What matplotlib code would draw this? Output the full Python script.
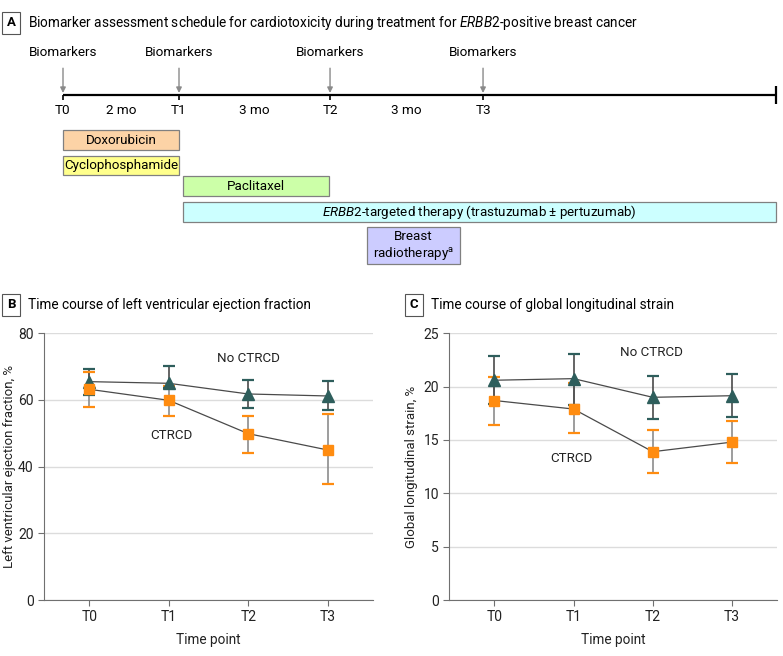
import matplotlib
matplotlib.use("Agg")
import matplotlib.pyplot as plt
import numpy as np

plt.rcParams['font.family'] = ['Roboto', 'DejaVu Sans']
plt.rcParams['mathtext.fontset'] = 'custom'
plt.rcParams['mathtext.rm'] = 'Roboto'
plt.rcParams['mathtext.it'] = 'Roboto:italic'
plt.rcParams['font.size'] = 9.7

# ---- data ----
timepoints = ['T0', 'T1', 'T2', 'T3']

# LVEF, %
lvef_no = [65.5, 65.0, 61.8, 61.2]
lvef_no_lo = [61.5, 63.7, 57.7, 57.1]
lvef_no_hi = [69.3, 70.2, 66.0, 65.7]
lvef_ct = [63.2, 59.9, 49.9, 45.0]
lvef_ct_lo = [57.8, 55.3, 44.1, 34.7]
lvef_ct_hi = [68.4, 64.2, 55.3, 55.7]

# GLS, %
gls_no = [20.6, 20.75, 19.0, 19.15]
gls_no_lo = [18.4, 18.3, 17.0, 17.2]
gls_no_hi = [22.9, 23.1, 21.0, 21.2]
gls_ct = [18.7, 17.9, 13.9, 14.8]
gls_ct_lo = [16.4, 15.7, 11.9, 12.8]
gls_ct_hi = [20.9, 20.3, 15.9, 16.8]

# schedule (schematic units, T0 -> T1 = 1)
sched_pos = [0, 1.0, 2.302, 3.621]
sched_end = 6.147
intervals = ['2 mo', '3 mo', '3 mo']
therapies = ['Doxorubicin', 'Cyclophosphamide', 'Paclitaxel',
             '$\\mathit{ERBB2}$-targeted therapy (trastuzumab ± pertuzumab)',
             'Breast\nradiotherapy$^{\\mathrm{a}}$']
ther_start = [0, 0, 1.035, 1.035, 2.62]
ther_end = [1.0, 1.0, 2.293, sched_end, 3.42]
ther_colors = ['#FCD3A6', '#FFFF8C', '#CCFFA8', '#CCFFFF', '#CCCCFF']

orange = '#FF8C10'
teal = '#2E5E5C'
W, H = 783, 656

fig = plt.figure(figsize=(W / 100, H / 100), dpi=100)


def panel_title(x_px, y_px, letter, title):
    fig.text(x_px / W, 1 - y_px / H, letter, ha='center', va='center',
             fontweight='bold', fontsize=9.5,
             bbox=dict(boxstyle='square,pad=0.35', fc='white', ec='#555', lw=0.8))
    fig.text((x_px + 17) / W, 1 - y_px / H, title, ha='left', va='center', fontsize=9.8)


# ---- panel A ----
ax_a = fig.add_axes([0, 1 - 290 / H, 1, 290 / H])
ax_a.set_xlim(-63 / 116, (W - 63) / 116)
ax_a.set_ylim(290, 0)
ax_a.axis('off')

panel_title(11, 23, 'A', 'Biomarker assessment schedule for cardiotoxicity during treatment for '
            '$\\mathit{ERBB2}$-positive breast cancer')

ax_a.plot([sched_pos[0], sched_end], [95, 95], color='black', lw=1.6, solid_capstyle='butt')
ax_a.vlines(sched_pos, 95, 100, color='black', lw=1.2)
ax_a.vlines(sched_end, 86, 104, color='black', lw=1.6)
for x, t in zip(sched_pos, timepoints):
    ax_a.annotate('Biomarkers', xy=(x, 93), xytext=(x, 52), ha='center', va='center',
                  fontsize=9.7,
                  arrowprops=dict(arrowstyle='-|>', color='#8a8a8a', lw=1,
                                  shrinkA=5, shrinkB=0, mutation_scale=8))
    ax_a.text(x, 110, t, ha='center', va='center', fontsize=9.7)
mids = [(a + b) / 2 for a, b in zip(sched_pos[:-1], sched_pos[1:])]
for x, lab in zip(mids, intervals):
    ax_a.text(x, 110, lab, ha='center', va='center', fontsize=9.7)

row_top = [130, 155.5, 176, 201.7, 227]
row_h = [20, 19.5, 20, 20, 37]
for i, name in enumerate(therapies):
    yc = row_top[i] + row_h[i] / 2
    ax_a.barh(yc, ther_end[i] - ther_start[i], left=ther_start[i], height=row_h[i],
              color=ther_colors[i], edgecolor='#808080', lw=0.9)
    ax_a.text((ther_start[i] + ther_end[i]) / 2, yc + 0.5, name, ha='center', va='center',
              fontsize=9.6, linespacing=1.1)


# ---- panels B and C ----
def trend_panel(ax, no, no_lo, no_hi, ct, ct_lo, ct_hi, ymax, step, ylabel, lab_no, lab_ct, ylab_x):
    x = np.arange(len(timepoints))
    ax.set_xlim(-0.57, 3.57)
    ax.set_ylim(0, ymax)
    ax.set_yticks(np.arange(0, ymax + step / 2, step))
    ax.set_xticks(x)
    ax.set_xticklabels(timepoints)
    ax.grid(axis='y', color='#dcdcdc', lw=1)
    ax.set_axisbelow(True)
    for s in ['top', 'right']:
        ax.spines[s].set_visible(False)
    for s in ['left', 'bottom']:
        ax.spines[s].set_color('#707070')
    ax.tick_params(colors='#707070', labelcolor='#222222', labelsize=10, length=4)

    # error bars
    ax.vlines(x, ct_lo, ct_hi, color='#8c8c8c', lw=1.2, zorder=2)
    ax.vlines(x, no_lo, no_hi, color='#4a4a4a', lw=1.2, zorder=2)
    ax.plot(x, ct_lo, ls='none', marker='_', ms=9, mew=1.6, color=orange, zorder=3)
    ax.plot(x, ct_hi, ls='none', marker='_', ms=9, mew=1.6, color=orange, zorder=3)
    ax.plot(x, no_lo, ls='none', marker='_', ms=9, mew=1.6, color=teal, zorder=3)
    ax.plot(x, no_hi, ls='none', marker='_', ms=9, mew=1.6, color=teal, zorder=3)

    ax.plot(x, no, color='#4a4a4a', lw=0.9, zorder=4)
    ax.plot(x, ct, color='#4a4a4a', lw=0.9, zorder=4)
    ax.plot(x, no, ls='none', marker='^', ms=8, color=teal, zorder=5)
    ax.plot(x, ct, ls='none', marker='s', ms=6.5, color=orange, zorder=5)

    ax.text(lab_no[0], lab_no[1], 'No CTRCD', ha='center', va='center', fontsize=9.6, color='#222222')
    ax.text(lab_ct[0], lab_ct[1], 'CTRCD', ha='center', va='center', fontsize=9.6, color='#222222')
    ax.set_ylabel(ylabel, fontsize=9.5, color='#222222')
    ax.yaxis.set_label_coords(ylab_x, 0.5)
    ax.set_xlabel('Time point', fontsize=9.8, color='#222222', labelpad=6)


ax_b = fig.add_axes([44 / W, 56 / H, 329 / W, 266.7 / H])
panel_title(11, 305, 'B', 'Time course of left ventricular ejection fraction')
trend_panel(ax_b, lvef_no, lvef_no_lo, lvef_no_hi, lvef_ct, lvef_ct_lo, lvef_ct_hi,
            80, 20, 'Left ventricular ejection fraction, %', (2.0, 72.3), (1.03, 49.2), -0.085)

ax_c = fig.add_axes([449.3 / W, 56 / H, 327.7 / W, 266.7 / H])
panel_title(414, 305, 'C', 'Time course of global longitudinal strain')
trend_panel(ax_c, gls_no, gls_no_lo, gls_no_hi, gls_ct, gls_ct_lo, gls_ct_hi,
            25, 5, 'Global longitudinal strain, %', (1.98, 23.2), (0.97, 13.3), -0.097)

fig.savefig('out.png', dpi=100)
